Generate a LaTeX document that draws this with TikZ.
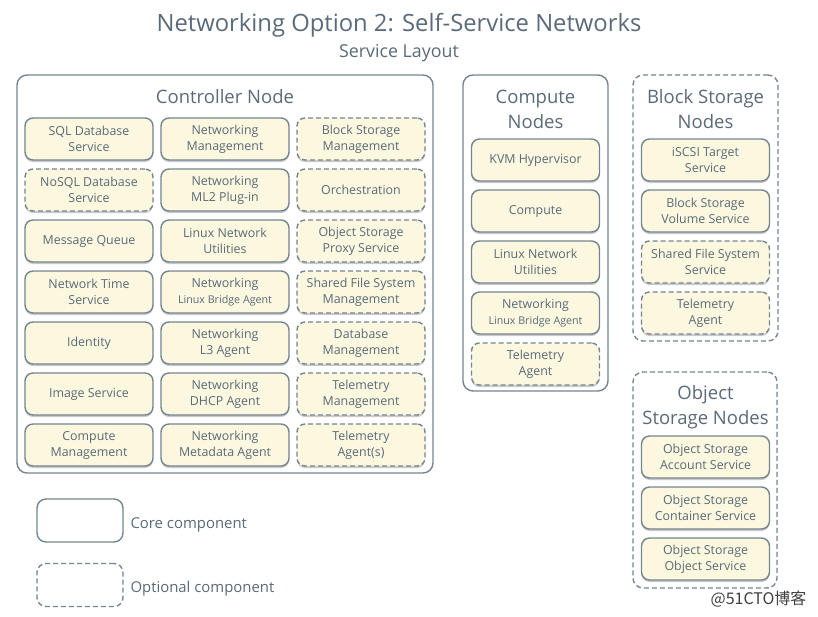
\documentclass[tikz,border=0pt]{standalone}
\usepackage{fontspec}
\setmainfont{Open Sans}
\newfontfamily\cjkfont{Noto Sans CJK SC}
\usetikzlibrary{shadows}
\definecolor{txtgrey}{HTML}{5A6A78}
\definecolor{linegrey}{HTML}{75848F}
\definecolor{boxfill}{HTML}{FBF8DF}

\begin{document}
\begin{tikzpicture}[x=1pt,y=-1pt,
  every node/.style={text=txtgrey, font=\fontsize{12.4}{16}\selectfont},
  comp/.style={draw=linegrey, line width=1.4pt, fill=boxfill, rounded corners=8pt,
    minimum width=128pt, minimum height=42pt, inner sep=0pt, align=center,
    drop shadow={shadow xshift=0pt, shadow yshift=-2pt, opacity=0.35, fill=black!60}},
  core/.style={comp},
  optional/.style={comp, dash pattern=on 5pt off 3pt},
  group/.style={draw=linegrey, line width=1.4pt, rounded corners=10pt, inner sep=0pt},
  grouptitle/.style={font=\fontsize{18.5}{25}\selectfont, align=center},
  small/.style={font=\fontsize{10.7}{13}\selectfont}]
  \useasboundingbox (0,0) rectangle (818,616);

  % titles
  \node[font=\fontsize{23.8}{28}\selectfont] (title) at (399,25) {Networking Option 2: Self-Service Networks};
  \node[font=\fontsize{17.8}{21}\selectfont] (subtitle) at (399,53) {Service Layout};

  % controller node
  \node[group, minimum width=416pt, minimum height=398pt] (ctrl) at (225,274) {};
  \node[grouptitle] (ctrltitle) at (225,97) {Controller Node};
  \node[core] (sqldb) at (89,139) {SQL Database\\Service};
  \node[optional] (nosqldb) at (89,190) {NoSQL Database\\Service};
  \node[core] (mq) at (89,241) {Message Queue};
  \node[core] (ntp) at (89,292) {Network Time\\Service};
  \node[core] (identity) at (89,343) {Identity};
  \node[core] (image) at (89,394) {Image Service};
  \node[core] (computemgmt) at (89,445) {Compute\\Management};
  \node[core] (netmgmt) at (225,139) {Networking\\Management};
  \node[core] (ml2) at (225,190) {Networking\\ML2 Plug-in};
  \node[core] (netutil) at (225,241) {Linux Network\\Utilities};
  \node[core] (lbagent) at (225,292) {Networking\\{\fontsize{10.7}{13}\selectfont Linux Bridge Agent}};
  \node[core] (l3agent) at (225,343) {Networking\\L3 Agent};
  \node[core] (dhcpagent) at (225,394) {Networking\\DHCP Agent};
  \node[core] (metaagent) at (225,445) {Networking\\Metadata Agent};
  \node[optional] (blockmgmt) at (361,139) {Block Storage\\Management};
  \node[optional] (orch) at (361,190) {Orchestration};
  \node[optional] (proxy) at (361,241) {Object Storage\\Proxy Service};
  \node[optional] (sharedmgmt) at (361,292) {Shared File System\\Management};
  \node[optional] (dbmgmt) at (361,343) {Database\\Management};
  \node[optional] (telemgmt) at (361,394) {Telemetry\\Management};
  \node[optional] (teleagents) at (361,445) {Telemetry\\Agent(s)};

  % compute nodes
  \node[group, minimum width=145pt, minimum height=316pt] (compute) at (535.5,233) {};
  \node[grouptitle] (computetitle) at (535.5,109.5) {Compute\\Nodes};
  \node[core] (kvm) at (535.5,160) {KVM Hypervisor};
  \node[core] (novacompute) at (535.5,211) {Compute};
  \node[core] (cnetutil) at (535.5,262) {Linux Network\\Utilities};
  \node[core] (clbagent) at (535.5,313) {Networking\\{\fontsize{10.7}{13}\selectfont Linux Bridge Agent}};
  \node[optional] (cteleagent) at (535.5,364) {Telemetry\\Agent};

  % block storage nodes
  \node[group, dash pattern=on 5pt off 3pt, minimum width=145pt, minimum height=266pt] (block) at (705.5,208) {};
  \node[grouptitle] (blocktitle) at (705.5,109.5) {Block Storage\\Nodes};
  \node[core] (iscsi) at (705.5,160) {iSCSI Target\\Service};
  \node[core] (volume) at (705.5,211) {Block Storage\\Volume Service};
  \node[optional] (sharedsvc) at (705.5,262) {Shared File System\\Service};
  \node[optional] (bteleagent) at (705.5,313) {Telemetry\\Agent};

  % object storage nodes
  \node[group, dash pattern=on 5pt off 3pt, minimum width=144pt, minimum height=216pt] (object) at (705,480) {};
  \node[grouptitle] (objecttitle) at (705.5,407.5) {Object\\Storage Nodes};
  \node[core] (account) at (705.5,457) {Object Storage\\Account Service};
  \node[core] (container) at (705.5,508) {Object Storage\\Container Service};
  \node[core] (objsvc) at (705.5,559) {Object Storage\\Object Service};

  % legend
  \node[group, rounded corners=9pt, minimum width=86pt, minimum height=43pt] (corekey) at (80,520.5) {};
  \node[anchor=west, font=\fontsize{14.9}{18}\selectfont] (corelabel) at (127,525) {Core component};
  \node[group, dash pattern=on 5pt off 3pt, rounded corners=9pt, minimum width=86pt, minimum height=43pt] (optkey) at (80,585) {};
  \node[anchor=west, font=\fontsize{14.9}{18}\selectfont] (optlabel) at (127,589) {Optional component};

  \node[anchor=east, text=black!75, font=\cjkfont\fontsize{16}{18}\selectfont] (mark) at (810,599) {@51CTO博客};
\end{tikzpicture}
\end{document}
